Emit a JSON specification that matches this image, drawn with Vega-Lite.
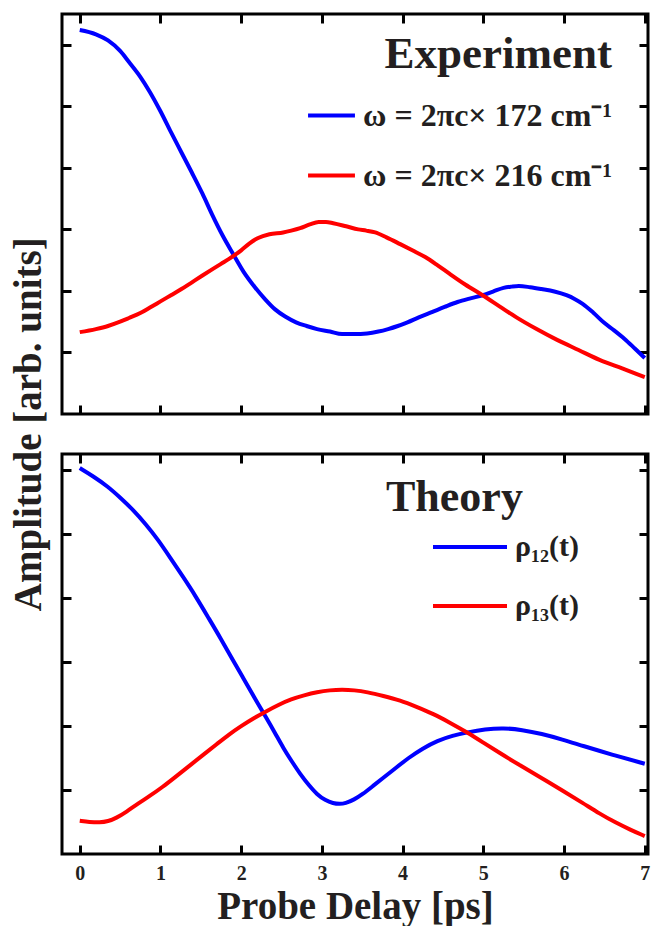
{
  "$schema": "https://vega.github.io/schema/vega-lite/v6.json",
  "autosize": {"type": "pad"},
  "padding": {"left": 9, "top": 11, "right": 0, "bottom": 0},
  "background": "white",
  "title": {"text": "Amplitude [arb. units]", "orient": "left", "anchor": "middle", "font": "Liberation Serif", "fontSize": 39, "fontWeight": "bold", "color": "#231f20", "offset": 10, "dx": 45},
  "datasets": {
    "exp": [
      {"series": "ω = 2πc× 172 cm⁻¹", "t": 0, "a": 6.24},
      {"series": "ω = 2πc× 172 cm⁻¹", "t": 0.2, "a": 6.17},
      {"series": "ω = 2πc× 172 cm⁻¹", "t": 0.35, "a": 6.07},
      {"series": "ω = 2πc× 172 cm⁻¹", "t": 0.5, "a": 5.9},
      {"series": "ω = 2πc× 172 cm⁻¹", "t": 0.61, "a": 5.72},
      {"series": "ω = 2πc× 172 cm⁻¹", "t": 0.75, "a": 5.48},
      {"series": "ω = 2πc× 172 cm⁻¹", "t": 0.87, "a": 5.23},
      {"series": "ω = 2πc× 172 cm⁻¹", "t": 1.0, "a": 4.92},
      {"series": "ω = 2πc× 172 cm⁻¹", "t": 1.13, "a": 4.58},
      {"series": "ω = 2πc× 172 cm⁻¹", "t": 1.26, "a": 4.25},
      {"series": "ω = 2πc× 172 cm⁻¹", "t": 1.39, "a": 3.92},
      {"series": "ω = 2πc× 172 cm⁻¹", "t": 1.52, "a": 3.58},
      {"series": "ω = 2πc× 172 cm⁻¹", "t": 1.64, "a": 3.24},
      {"series": "ω = 2πc× 172 cm⁻¹", "t": 1.77, "a": 2.9},
      {"series": "ω = 2πc× 172 cm⁻¹", "t": 1.9, "a": 2.6},
      {"series": "ω = 2πc× 172 cm⁻¹", "t": 2.03, "a": 2.31},
      {"series": "ω = 2πc× 172 cm⁻¹", "t": 2.17, "a": 2.06},
      {"series": "ω = 2πc× 172 cm⁻¹", "t": 2.3, "a": 1.86},
      {"series": "ω = 2πc× 172 cm⁻¹", "t": 2.42, "a": 1.7},
      {"series": "ω = 2πc× 172 cm⁻¹", "t": 2.55, "a": 1.58},
      {"series": "ω = 2πc× 172 cm⁻¹", "t": 2.68, "a": 1.49},
      {"series": "ω = 2πc× 172 cm⁻¹", "t": 2.81, "a": 1.43},
      {"series": "ω = 2πc× 172 cm⁻¹", "t": 2.94, "a": 1.38},
      {"series": "ω = 2πc× 172 cm⁻¹", "t": 3.1, "a": 1.34},
      {"series": "ω = 2πc× 172 cm⁻¹", "t": 3.25, "a": 1.3},
      {"series": "ω = 2πc× 172 cm⁻¹", "t": 3.4, "a": 1.3},
      {"series": "ω = 2πc× 172 cm⁻¹", "t": 3.56, "a": 1.31},
      {"series": "ω = 2πc× 172 cm⁻¹", "t": 3.7, "a": 1.34},
      {"series": "ω = 2πc× 172 cm⁻¹", "t": 3.82, "a": 1.38},
      {"series": "ω = 2πc× 172 cm⁻¹", "t": 3.94, "a": 1.43},
      {"series": "ω = 2πc× 172 cm⁻¹", "t": 4.06, "a": 1.49},
      {"series": "ω = 2πc× 172 cm⁻¹", "t": 4.2, "a": 1.57},
      {"series": "ω = 2πc× 172 cm⁻¹", "t": 4.37, "a": 1.66},
      {"series": "ω = 2πc× 172 cm⁻¹", "t": 4.52, "a": 1.74},
      {"series": "ω = 2πc× 172 cm⁻¹", "t": 4.68, "a": 1.82},
      {"series": "ω = 2πc× 172 cm⁻¹", "t": 4.84, "a": 1.88},
      {"series": "ω = 2πc× 172 cm⁻¹", "t": 4.99, "a": 1.93},
      {"series": "ω = 2πc× 172 cm⁻¹", "t": 5.12, "a": 1.99},
      {"series": "ω = 2πc× 172 cm⁻¹", "t": 5.25, "a": 2.05},
      {"series": "ω = 2πc× 172 cm⁻¹", "t": 5.35, "a": 2.07},
      {"series": "ω = 2πc× 172 cm⁻¹", "t": 5.44, "a": 2.08},
      {"series": "ω = 2πc× 172 cm⁻¹", "t": 5.58, "a": 2.06},
      {"series": "ω = 2πc× 172 cm⁻¹", "t": 5.72, "a": 2.03},
      {"series": "ω = 2πc× 172 cm⁻¹", "t": 5.88, "a": 1.99},
      {"series": "ω = 2πc× 172 cm⁻¹", "t": 6.03, "a": 1.93},
      {"series": "ω = 2πc× 172 cm⁻¹", "t": 6.13, "a": 1.87},
      {"series": "ω = 2πc× 172 cm⁻¹", "t": 6.23, "a": 1.79},
      {"series": "ω = 2πc× 172 cm⁻¹", "t": 6.36, "a": 1.65},
      {"series": "ω = 2πc× 172 cm⁻¹", "t": 6.49, "a": 1.49},
      {"series": "ω = 2πc× 172 cm⁻¹", "t": 6.62, "a": 1.36},
      {"series": "ω = 2πc× 172 cm⁻¹", "t": 6.75, "a": 1.22},
      {"series": "ω = 2πc× 172 cm⁻¹", "t": 6.88, "a": 1.06},
      {"series": "ω = 2πc× 172 cm⁻¹", "t": 7.0, "a": 0.91},
      {"series": "ω = 2πc× 216 cm⁻¹", "t": 0, "a": 1.33},
      {"series": "ω = 2πc× 216 cm⁻¹", "t": 0.2, "a": 1.38},
      {"series": "ω = 2πc× 216 cm⁻¹", "t": 0.35, "a": 1.43},
      {"series": "ω = 2πc× 216 cm⁻¹", "t": 0.5, "a": 1.5},
      {"series": "ω = 2πc× 216 cm⁻¹", "t": 0.61, "a": 1.56},
      {"series": "ω = 2πc× 216 cm⁻¹", "t": 0.75, "a": 1.64},
      {"series": "ω = 2πc× 216 cm⁻¹", "t": 0.87, "a": 1.73},
      {"series": "ω = 2πc× 216 cm⁻¹", "t": 1.0, "a": 1.83},
      {"series": "ω = 2πc× 216 cm⁻¹", "t": 1.13, "a": 1.93},
      {"series": "ω = 2πc× 216 cm⁻¹", "t": 1.26, "a": 2.03},
      {"series": "ω = 2πc× 216 cm⁻¹", "t": 1.39, "a": 2.14},
      {"series": "ω = 2πc× 216 cm⁻¹", "t": 1.52, "a": 2.25},
      {"series": "ω = 2πc× 216 cm⁻¹", "t": 1.64, "a": 2.35},
      {"series": "ω = 2πc× 216 cm⁻¹", "t": 1.75, "a": 2.44},
      {"series": "ω = 2πc× 216 cm⁻¹", "t": 1.85, "a": 2.52},
      {"series": "ω = 2πc× 216 cm⁻¹", "t": 2.0, "a": 2.66},
      {"series": "ω = 2πc× 216 cm⁻¹", "t": 2.1, "a": 2.77},
      {"series": "ω = 2πc× 216 cm⁻¹", "t": 2.21, "a": 2.86},
      {"series": "ω = 2πc× 216 cm⁻¹", "t": 2.35, "a": 2.92},
      {"series": "ω = 2πc× 216 cm⁻¹", "t": 2.52, "a": 2.95},
      {"series": "ω = 2πc× 216 cm⁻¹", "t": 2.62, "a": 2.98},
      {"series": "ω = 2πc× 216 cm⁻¹", "t": 2.73, "a": 3.02},
      {"series": "ω = 2πc× 216 cm⁻¹", "t": 2.85, "a": 3.08},
      {"series": "ω = 2πc× 216 cm⁻¹", "t": 2.96, "a": 3.12},
      {"series": "ω = 2πc× 216 cm⁻¹", "t": 3.05, "a": 3.12},
      {"series": "ω = 2πc× 216 cm⁻¹", "t": 3.14, "a": 3.1},
      {"series": "ω = 2πc× 216 cm⁻¹", "t": 3.3, "a": 3.05},
      {"series": "ω = 2πc× 216 cm⁻¹", "t": 3.45, "a": 3.0},
      {"series": "ω = 2πc× 216 cm⁻¹", "t": 3.55, "a": 2.98},
      {"series": "ω = 2πc× 216 cm⁻¹", "t": 3.66, "a": 2.95},
      {"series": "ω = 2πc× 216 cm⁻¹", "t": 3.8, "a": 2.87},
      {"series": "ω = 2πc× 216 cm⁻¹", "t": 3.97, "a": 2.76},
      {"series": "ω = 2πc× 216 cm⁻¹", "t": 4.12, "a": 2.66},
      {"series": "ω = 2πc× 216 cm⁻¹", "t": 4.28, "a": 2.55},
      {"series": "ω = 2πc× 216 cm⁻¹", "t": 4.43, "a": 2.42},
      {"series": "ω = 2πc× 216 cm⁻¹", "t": 4.58, "a": 2.28},
      {"series": "ω = 2πc× 216 cm⁻¹", "t": 4.78, "a": 2.1},
      {"series": "ω = 2πc× 216 cm⁻¹", "t": 4.99, "a": 1.93},
      {"series": "ω = 2πc× 216 cm⁻¹", "t": 5.2, "a": 1.75},
      {"series": "ω = 2πc× 216 cm⁻¹", "t": 5.41, "a": 1.57},
      {"series": "ω = 2πc× 216 cm⁻¹", "t": 5.66, "a": 1.38},
      {"series": "ω = 2πc× 216 cm⁻¹", "t": 5.92, "a": 1.2},
      {"series": "ω = 2πc× 216 cm⁻¹", "t": 6.18, "a": 1.04},
      {"series": "ω = 2πc× 216 cm⁻¹", "t": 6.44, "a": 0.88},
      {"series": "ω = 2πc× 216 cm⁻¹", "t": 6.72, "a": 0.74},
      {"series": "ω = 2πc× 216 cm⁻¹", "t": 7.0, "a": 0.6}
    ],
    "theo": [
      {"series": "ρ₁₂(t)", "t": 0, "a": 6.03},
      {"series": "ρ₁₂(t)", "t": 0.17, "a": 5.9},
      {"series": "ρ₁₂(t)", "t": 0.35, "a": 5.74},
      {"series": "ρ₁₂(t)", "t": 0.5, "a": 5.57},
      {"series": "ρ₁₂(t)", "t": 0.66, "a": 5.38},
      {"series": "ρ₁₂(t)", "t": 0.82, "a": 5.15},
      {"series": "ρ₁₂(t)", "t": 0.97, "a": 4.91},
      {"series": "ρ₁₂(t)", "t": 1.12, "a": 4.63},
      {"series": "ρ₁₂(t)", "t": 1.28, "a": 4.33},
      {"series": "ρ₁₂(t)", "t": 1.44, "a": 4.02},
      {"series": "ρ₁₂(t)", "t": 1.59, "a": 3.7},
      {"series": "ρ₁₂(t)", "t": 1.75, "a": 3.36},
      {"series": "ρ₁₂(t)", "t": 1.9, "a": 3.02},
      {"series": "ρ₁₂(t)", "t": 2.03, "a": 2.74},
      {"series": "ρ₁₂(t)", "t": 2.16, "a": 2.45},
      {"series": "ρ₁₂(t)", "t": 2.31, "a": 2.13},
      {"series": "ρ₁₂(t)", "t": 2.42, "a": 1.89},
      {"series": "ρ₁₂(t)", "t": 2.52, "a": 1.66},
      {"series": "ρ₁₂(t)", "t": 2.63, "a": 1.44},
      {"series": "ρ₁₂(t)", "t": 2.73, "a": 1.25},
      {"series": "ρ₁₂(t)", "t": 2.84, "a": 1.07},
      {"series": "ρ₁₂(t)", "t": 2.94, "a": 0.93},
      {"series": "ρ₁₂(t)", "t": 3.04, "a": 0.84},
      {"series": "ρ₁₂(t)", "t": 3.14, "a": 0.79},
      {"series": "ρ₁₂(t)", "t": 3.22, "a": 0.78},
      {"series": "ρ₁₂(t)", "t": 3.29, "a": 0.79},
      {"series": "ρ₁₂(t)", "t": 3.4, "a": 0.85},
      {"series": "ρ₁₂(t)", "t": 3.5, "a": 0.93},
      {"series": "ρ₁₂(t)", "t": 3.63, "a": 1.06},
      {"series": "ρ₁₂(t)", "t": 3.76, "a": 1.19},
      {"series": "ρ₁₂(t)", "t": 3.92, "a": 1.35},
      {"series": "ρ₁₂(t)", "t": 4.07, "a": 1.5},
      {"series": "ρ₁₂(t)", "t": 4.25, "a": 1.65},
      {"series": "ρ₁₂(t)", "t": 4.43, "a": 1.77},
      {"series": "ρ₁₂(t)", "t": 4.62, "a": 1.85},
      {"series": "ρ₁₂(t)", "t": 4.8, "a": 1.9},
      {"series": "ρ₁₂(t)", "t": 5.02, "a": 1.95},
      {"series": "ρ₁₂(t)", "t": 5.25, "a": 1.97},
      {"series": "ρ₁₂(t)", "t": 5.48, "a": 1.94},
      {"series": "ρ₁₂(t)", "t": 5.72, "a": 1.88},
      {"series": "ρ₁₂(t)", "t": 5.98, "a": 1.79},
      {"series": "ρ₁₂(t)", "t": 6.23, "a": 1.69},
      {"series": "ρ₁₂(t)", "t": 6.6, "a": 1.55},
      {"series": "ρ₁₂(t)", "t": 7.0, "a": 1.41},
      {"series": "ρ₁₃(t)", "t": 0, "a": 0.52},
      {"series": "ρ₁₃(t)", "t": 0.12, "a": 0.5},
      {"series": "ρ₁₃(t)", "t": 0.25, "a": 0.49},
      {"series": "ρ₁₃(t)", "t": 0.35, "a": 0.51},
      {"series": "ρ₁₃(t)", "t": 0.45, "a": 0.56},
      {"series": "ρ₁₃(t)", "t": 0.58, "a": 0.66},
      {"series": "ρ₁₃(t)", "t": 0.71, "a": 0.78},
      {"series": "ρ₁₃(t)", "t": 0.86, "a": 0.9},
      {"series": "ρ₁₃(t)", "t": 1.02, "a": 1.04},
      {"series": "ρ₁₃(t)", "t": 1.2, "a": 1.22},
      {"series": "ρ₁₃(t)", "t": 1.39, "a": 1.41},
      {"series": "ρ₁₃(t)", "t": 1.55, "a": 1.57},
      {"series": "ρ₁₃(t)", "t": 1.7, "a": 1.72},
      {"series": "ρ₁₃(t)", "t": 1.85, "a": 1.87},
      {"series": "ρ₁₃(t)", "t": 2.0, "a": 2.0},
      {"series": "ρ₁₃(t)", "t": 2.15, "a": 2.12},
      {"series": "ρ₁₃(t)", "t": 2.31, "a": 2.23},
      {"series": "ρ₁₃(t)", "t": 2.46, "a": 2.33},
      {"series": "ρ₁₃(t)", "t": 2.62, "a": 2.42},
      {"series": "ρ₁₃(t)", "t": 2.78, "a": 2.48},
      {"series": "ρ₁₃(t)", "t": 2.94, "a": 2.53},
      {"series": "ρ₁₃(t)", "t": 3.1, "a": 2.56},
      {"series": "ρ₁₃(t)", "t": 3.25, "a": 2.57},
      {"series": "ρ₁₃(t)", "t": 3.4, "a": 2.56},
      {"series": "ρ₁₃(t)", "t": 3.56, "a": 2.53},
      {"series": "ρ₁₃(t)", "t": 3.76, "a": 2.47},
      {"series": "ρ₁₃(t)", "t": 3.97, "a": 2.4},
      {"series": "ρ₁₃(t)", "t": 4.17, "a": 2.3},
      {"series": "ρ₁₃(t)", "t": 4.38, "a": 2.19},
      {"series": "ρ₁₃(t)", "t": 4.59, "a": 2.05},
      {"series": "ρ₁₃(t)", "t": 4.8, "a": 1.9},
      {"series": "ρ₁₃(t)", "t": 5.0, "a": 1.74},
      {"series": "ρ₁₃(t)", "t": 5.2, "a": 1.58},
      {"series": "ρ₁₃(t)", "t": 5.46, "a": 1.38},
      {"series": "ρ₁₃(t)", "t": 5.72, "a": 1.19},
      {"series": "ρ₁₃(t)", "t": 5.98, "a": 0.99},
      {"series": "ρ₁₃(t)", "t": 6.23, "a": 0.8},
      {"series": "ρ₁₃(t)", "t": 6.44, "a": 0.63},
      {"series": "ρ₁₃(t)", "t": 6.64, "a": 0.49},
      {"series": "ρ₁₃(t)", "t": 6.82, "a": 0.38},
      {"series": "ρ₁₃(t)", "t": 7.0, "a": 0.28}
    ]
  },
  "spacing": 34,
  "vconcat": [
    {
      "width": 586,
      "height": 400,
      "data": {"name": "exp"},
      "layer": [
        {
          "mark": {"type": "line", "strokeWidth": 4, "interpolate": "monotone"},
          "encoding": {
            "x": {"field": "t", "type": "quantitative", "scale": {"domain": [-0.22, 7.04], "nice": false, "zero": false},
                  "axis": {"orient": "bottom", "values": [0, 1, 2, 3, 4, 5, 6, 7], "labels": false, "title": null}},
            "y": {"field": "a", "type": "quantitative", "scale": {"domain": [0, 6.5], "nice": false, "zero": false},
                  "axis": {"orient": "left", "values": [1, 2, 3, 4, 5, 6], "labels": false, "title": null}},
            "color": {"field": "series", "type": "nominal",
                      "scale": {"domain": ["ω = 2πc× 172 cm⁻¹", "ω = 2πc× 216 cm⁻¹"], "range": ["#0000ff", "#ff0000"]},
                      "legend": {"title": "Experiment", "orient": "none", "legendX": 244, "legendY": 18, "titleAnchor": "end", "titleFontSize": 45, "labelFontSize": 32, "symbolSize": 2200, "rowPadding": 18, "titlePadding": 13}}
          }
        },
        {
          "mark": {"type": "line", "opacity": 0},
          "encoding": {
            "x": {"field": "t", "type": "quantitative", "axis": {"orient": "top", "values": [0, 1, 2, 3, 4, 5, 6, 7], "labels": false, "title": null}},
            "y": {"field": "a", "type": "quantitative", "axis": {"orient": "right", "values": [1, 2, 3, 4, 5, 6], "labels": false, "title": null}},
            "detail": {"field": "series"}
          }
        }
      ],
      "resolve": {"axis": {"x": "independent", "y": "independent"}}
    },
    {
      "width": 586,
      "height": 400,
      "data": {"name": "theo"},
      "layer": [
        {
          "mark": {"type": "line", "strokeWidth": 4, "interpolate": "basis"},
          "encoding": {
            "x": {"field": "t", "type": "quantitative", "scale": {"domain": [-0.22, 7.04], "nice": false, "zero": false},
                  "axis": {"orient": "bottom", "values": [0, 1, 2, 3, 4, 5, 6, 7], "title": "Probe Delay [ps]", "labelPadding": 18, "titlePadding": 4}},
            "y": {"field": "a", "type": "quantitative", "scale": {"domain": [0, 6.25], "nice": false, "zero": false},
                  "axis": {"orient": "left", "values": [1, 2, 3, 4, 5, 6], "labels": false, "title": null}},
            "color": {"field": "series", "type": "nominal",
                      "scale": {"domain": ["ρ₁₂(t)", "ρ₁₃(t)"], "range": ["#0000ff", "#ff0000"]},
                      "legend": {"title": "Theory", "orient": "none", "legendX": 324, "legendY": 22, "titleAnchor": "start", "titleFontSize": 44, "labelFontSize": 30, "symbolSize": 5476, "symbolOffset": 45, "labelOffset": 6, "rowPadding": 5, "titlePadding": -12}}
          }
        },
        {
          "mark": {"type": "line", "opacity": 0},
          "encoding": {
            "x": {"field": "t", "type": "quantitative", "axis": {"orient": "top", "values": [0, 1, 2, 3, 4, 5, 6, 7], "labels": false, "title": null}},
            "y": {"field": "a", "type": "quantitative", "axis": {"orient": "right", "values": [1, 2, 3, 4, 5, 6], "labels": false, "title": null}},
            "detail": {"field": "series"}
          }
        }
      ],
      "resolve": {"axis": {"x": "independent", "y": "independent"}}
    }
  ],
  "resolve": {"scale": {"color": "independent"}, "legend": {"color": "independent"}},
  "config": {
    "view": {"stroke": "#000000", "strokeWidth": 3},
    "axis": {"domain": false, "grid": false, "ticks": true, "tickColor": "#000000", "tickWidth": 3, "tickSize": -9,
             "labelFont": "Liberation Serif", "labelFontWeight": "bold", "labelFontSize": 20, "labelColor": "#231f20",
             "titleFont": "Liberation Serif", "titleFontWeight": "bold", "titleFontSize": 39, "titleColor": "#231f20"},
    "legend": {"symbolType": "stroke", "symbolStrokeWidth": 4, "padding": 0, "labelOffset": 6,
               "labelFont": "Liberation Serif", "labelFontWeight": "bold", "labelColor": "#231f20", "labelLimit": 500,
               "titleFont": "Liberation Serif", "titleFontWeight": "bold", "titleColor": "#231f20", "titleLimit": 500}
  }
}
